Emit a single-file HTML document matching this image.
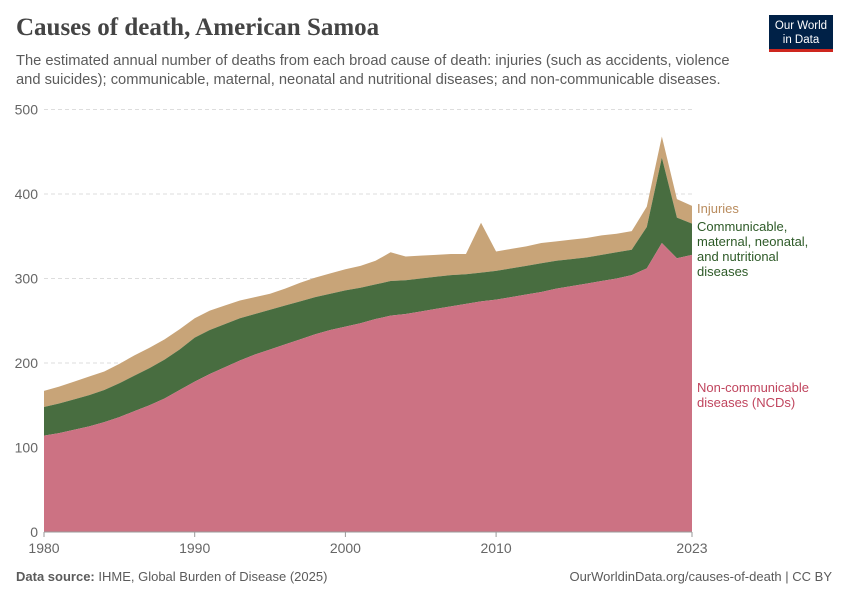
<!DOCTYPE html>
<html><head><meta charset="utf-8">
<style>
body{margin:0;width:850px;height:600px;background:#fff;font-family:"Liberation Sans",sans-serif;overflow:hidden;position:relative}
.t{position:absolute;white-space:nowrap}
</style></head><body>
<div class="t" style="left:16px;top:14px;font-family:'Liberation Serif',serif;font-size:25px;font-weight:bold;color:#444;">Causes of death, American Samoa</div>
<div class="t" style="left:16px;top:52px;font-size:14.7px;line-height:19px;color:#5b5b5b;">The estimated annual number of deaths from each broad cause of death: injuries (such as accidents, violence<br>and suicides); communicable, maternal, neonatal and nutritional diseases; and non-communicable diseases.</div>
<div style="position:absolute;left:769px;top:15px;width:64px;height:37px;background:#002147;border-bottom:3px solid #ce261e;box-sizing:border-box;color:#fff;font-size:11.5px;line-height:14px;text-align:center;padding-top:4px;">Our World<br>in Data</div>
<svg id="chart" width="850" height="600" style="position:absolute;left:0;top:0"></svg>
<div class="t" style="left:16px;top:569px;font-size:13px;color:#5b5b5b;"><b>Data source:</b> IHME, Global Burden of Disease (2025)</div>
<div class="t" style="right:18px;top:569px;font-size:13px;color:#5b5b5b;">OurWorldinData.org/causes-of-death | CC BY</div>
<script>
const years=[];for(let y=1980;y<=2023;y++)years.push(y);
const ncd=[114,117,121,125,130,136,143,150,158,168,178,187,195,203,210,216,222,228,234,239,243,247,252,256,258,261,264,267,270,273,275,278,281,284,288,291,294,297,300,304,312,342,324,328];
const cmnn=[34,35,36,37,38,40,42,44,46,48,52,52,51,50,48,47,46,45,44,43,43,42,41,41,40,39,38,37,35,34,34,34,34,34,33,32,31,31,31,30,49,101,48,37];
const injuries=[19,20,21,22,22,23,24,24,24,24,23,23,22,21,20,19,20,22,23,24,25,26,28,34,28,27,26,25,24,59,23,23,23,24,23,23,23,23,22,22,24,25,22,21];
const yTicks=[0,100,200,300,400,500];
const xTicks=[1980,1990,2000,2010,2023];
const NS="http://www.w3.org/2000/svg";
const svg=document.getElementById('chart');
const X=y=>44+(y-1980)*(692-44)/43;
const Y=v=>532-v*(532-109.5)/500;
function mk(t,a){const e=document.createElementNS(NS,t);for(const k in a)e.setAttribute(k,a[k]);svg.appendChild(e);return e;}
yTicks.forEach(v=>{
  if(v>0){const l=mk('line',{x1:44,x2:692,y1:Y(v),y2:Y(v),stroke:'#ddd','stroke-dasharray':'4,3'});
  
  }
  const t=mk('text',{x:38,y:Y(v)+5,'text-anchor':'end','font-size':14,fill:'#666','font-family':'Liberation Sans'});t.textContent=v;
  
  
});
const s1=ncd, s2=ncd.map((v,i)=>v+cmnn[i]), s3=s2.map((v,i)=>v+injuries[i]);
function area(top,bot,color,name){
  let d='M'+years.map((y,i)=>X(y)+','+Y(top[i])).join('L');
  for(let i=years.length-1;i>=0;i--)d+='L'+X(years[i])+','+Y(bot?bot[i]:0);
  const p=mk('path',{d:d+'Z',fill:color});
  
  
}
area(s3,s2,'#c8a478','area-injuries');
area(s2,s1,'#486d40','area-communicable');
area(s1,null,'#cc7283','area-ncd');
mk('line',{x1:44,x2:692,y1:532,y2:532,stroke:'#999'});
xTicks.forEach(y=>{
  mk('line',{x1:X(y),x2:X(y),y1:532,y2:537,stroke:'#999'});
  const t=mk('text',{x:X(y),y:553,'text-anchor':'middle','font-size':14,fill:'#666','font-family':'Liberation Sans'});t.textContent=y;
  
  
});
function lbl(lines,y,color,name){
  const t=mk('text',{x:697,y:y,'font-size':13,fill:color,'font-family':'Liberation Sans'});
  lines.forEach((s,i)=>{const ts=document.createElementNS(NS,'tspan');ts.setAttribute('x',697);ts.setAttribute('dy',i?15:0);ts.textContent=s;t.appendChild(ts);});
  
  
}
lbl(['Injuries'],213,'#b98c5e','legend-injuries');
lbl(['Communicable,','maternal, neonatal,','and nutritional','diseases'],231,'#2d5a27','legend-communicable');
lbl(['Non-communicable','diseases (NCDs)'],392,'#c0455e','legend-ncd');
</script>
</body></html>
